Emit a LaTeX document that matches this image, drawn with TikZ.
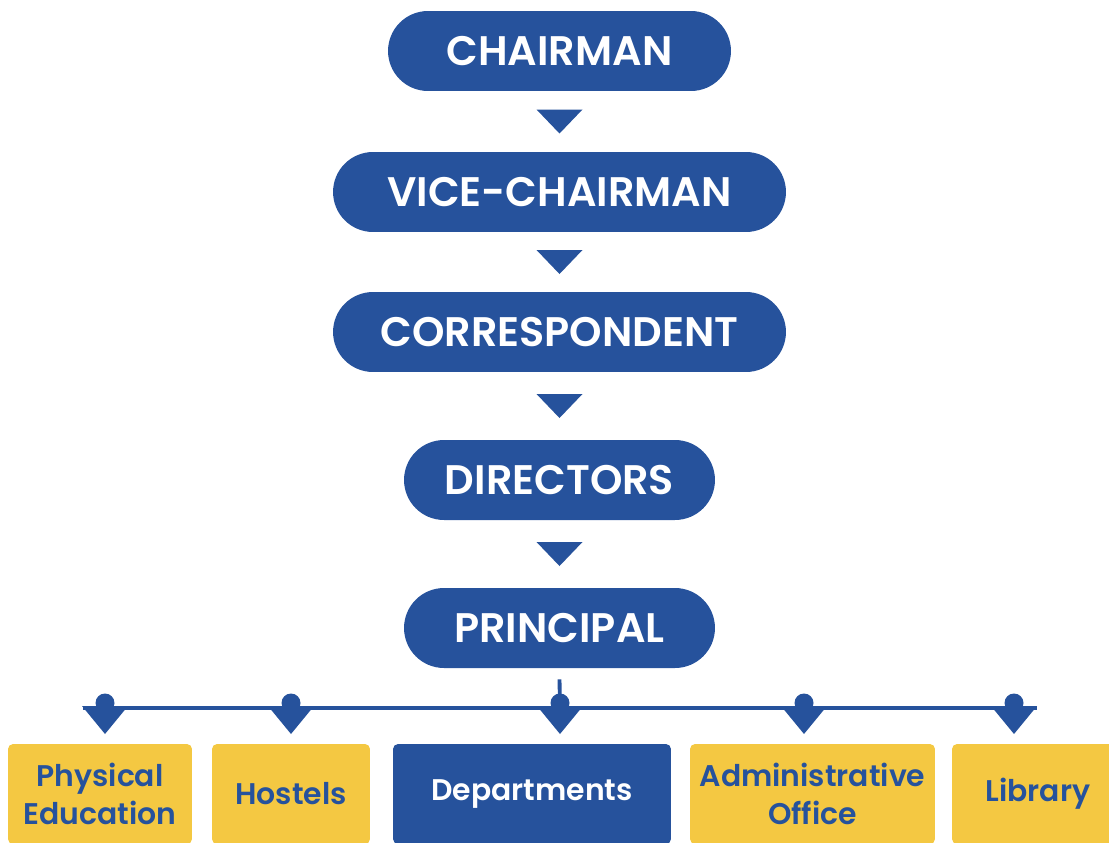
\documentclass[tikz,border=0pt]{standalone}
\usepackage{fontspec}
\setmainfont{Poppins}[BoldFont={Poppins SemiBold}]
\usepackage{tikz}
\usetikzlibrary{positioning, calc}
\usepackage{xcolor}
\definecolor{brandblue}{RGB}{38,82,156}
\definecolor{brandgold}{RGB}{244,200,66}
\tikzset{%
	head pill/.style={
		fill=brandblue,
		text=white,
		rounded corners=0.8cm,
		minimum height=1.6cm,
		inner sep=0pt,
		font=\bfseries\fontsize{23.5}{28}\selectfont
	},
	unit box/.style={
		fill=brandgold,
		text=brandblue,
		rounded corners=0.1cm,
		minimum height=2cm,
		inner sep=0pt,
		align=center,
		font=\bfseries\fontsize{17}{21.5}\selectfont
	},
	bus line/.style={
		draw=brandblue,
		line width=2.2pt
	},
	down tri/.pic={
		\fill[brandblue] (-23,-12) -- (23,-12) -- (0,12) -- cycle;
	},
	drop tri/.pic={
		\fill[brandblue] (0,-5) circle (9.5);
		\fill[brandblue] (-23,-2) -- (23,-2) -- (0,26) -- cycle;
	},
}
\begin{document}
\begin{tikzpicture}[x=0.02cm, y=-0.02cm]
			\useasboundingbox (0,0) rectangle (1109,842);
			
			% Chain of offices
			\node[head pill, minimum width=6.86cm] (chair) at (559.5,51) {CHAIRMAN};
			\node[head pill, minimum width=9.06cm] (vice) at (559.5,192) {VICE-CHAIRMAN};
			\node[head pill, minimum width=9.06cm] (corr) at (559.5,332) {CORRESPONDENT};
			\node[head pill, minimum width=6.22cm] (dirs) at (559.5,480) {DIRECTORS};
			\node[head pill, minimum width=6.22cm] (princ) at (559.5,628) {PRINCIPAL};
			
			% Triangles between the offices
			\pic at ($(chair.south)!0.5!(vice.north)$) {down tri};
			\pic at ($(vice.south)!0.5!(corr.north)$) {down tri};
			\pic at ($(corr.south)!0.5!(dirs.north)$) {down tri};
			\pic at ($(dirs.south)!0.5!(princ.north)$) {down tri};
			
			% Bus under the principal
			\coordinate (busL) at (83,708);
			\coordinate (busR) at (1037,708);
			\coordinate (busM) at (560,708);
			\draw[bus line] ([yshift=-0.22cm]princ.south) -- (busM);
			\draw[bus line] (busL) -- (busR);
			
			\coordinate (d1) at (105,708);
			\coordinate (d2) at (291,708);
			\coordinate (d3) at (560,708);
			\coordinate (d4) at (804,708);
			\coordinate (d5) at (1014,708);
			\foreach \d in {d1,d2,d3,d4,d5}
				\pic at (\d) {drop tri};
			
			% Units
			\node[unit box, minimum width=3.68cm] (pe) at (100,794) {Physical\\Education};
			\node[unit box, minimum width=3.16cm] (hostel) at (291,794) {Hostels};
			\node[unit box, minimum width=5.56cm, fill=brandblue, text=white] (dept) at (532,794) {Departments};
			\node[unit box, minimum width=4.9cm] (admin) at (812.5,794) {Administrative\\Office};
			\node[unit box, minimum width=3.44cm] (lib) at (1038,794) {Library};
			
		\end{tikzpicture}
\end{document}
